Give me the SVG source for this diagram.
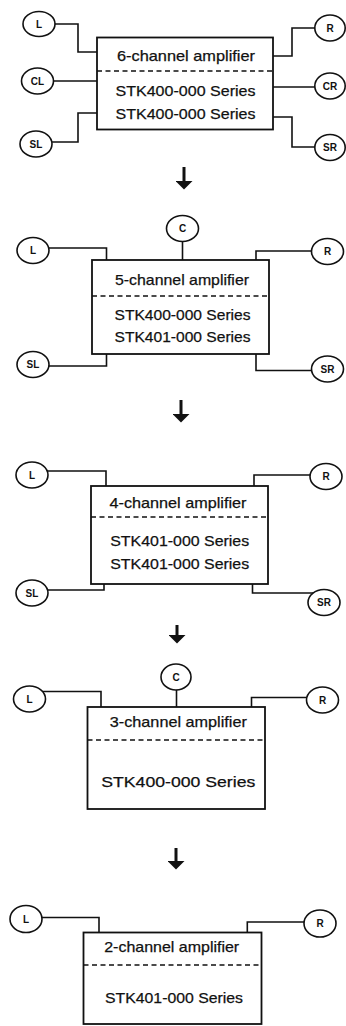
<svg xmlns="http://www.w3.org/2000/svg" width="346" height="1026" viewBox="0 0 346 1026">
<style>
.box{fill:#fff;stroke:#111;stroke-width:1.8}
.dash{stroke:#111;stroke-width:1.5;stroke-dasharray:5 3.5;fill:none}
.t{font-family:"Liberation Sans",Arial,sans-serif;font-size:15px;fill:#111;text-anchor:middle;stroke:#111;stroke-width:0.25}
.sp{fill:#fff;stroke:#111;stroke-width:1.6}
.lb{font-family:"Liberation Sans",Arial,sans-serif;font-size:10px;font-weight:bold;fill:#111;text-anchor:middle}
.w{fill:none;stroke:#111;stroke-width:1.6}
.ar{stroke:#111;stroke-width:3;fill:none}
</style>
<defs>
<marker id="ah" markerUnits="userSpaceOnUse" viewBox="0 -8.5 8.5 17" refX="0" refY="0" markerWidth="8.5" markerHeight="17" orient="auto">
<path d="M0,-8.5 L8.5,0 L0,8.5 Z" fill="#111"/>
</marker>
</defs>
<rect x="0" y="0" width="346" height="1026" fill="#fff"/>

<g id="connectors">
<!-- section 1 -->
<polyline class="w" points="39,24 78,24 78,52 97,52"/>
<polyline class="w" points="37.5,81 97,81"/>
<polyline class="w" points="36,142 78,142 78,113 97,113"/>
<polyline class="w" points="273,56 292,56 292,28 330,28"/>
<polyline class="w" points="273,87 330,87"/>
<polyline class="w" points="273,117 292,117 292,147 330,147"/>
<!-- section 2 -->
<polyline class="w" points="182.5,228 182.5,260"/>
<polyline class="w" points="33,248 106.5,248 106.5,260"/>
<polyline class="w" points="256,260 256,251 327.5,251"/>
<polyline class="w" points="33,366 106.5,366 106.5,354"/>
<polyline class="w" points="256,354 256,370.5 327.5,370.5"/>
<!-- section 3 -->
<polyline class="w" points="32,471 106,471 106,486"/>
<polyline class="w" points="254,486 254,475 326,475"/>
<polyline class="w" points="32,590 104,590 104,584"/>
<polyline class="w" points="252.5,584 252.5,593 324,593"/>
<!-- section 4 -->
<polyline class="w" points="176.5,677 176.5,707"/>
<polyline class="w" points="29.5,691.5 101,691.5 101,707"/>
<polyline class="w" points="251.5,708 251.5,697.5 322.5,697.5"/>
<!-- section 5 -->
<polyline class="w" points="26,917.5 99,917.5 99,932.5"/>
<polyline class="w" points="247.3,932.5 247.3,922 320,922"/>
<!-- flow arrows -->
<line class="ar" x1="184" y1="167" x2="184" y2="181" marker-end="url(#ah)"/>
<line class="ar" x1="181" y1="400" x2="181" y2="414" marker-end="url(#ah)"/>
<line class="ar" x1="177" y1="625" x2="177" y2="635" marker-end="url(#ah)"/>
<line class="ar" x1="176" y1="848" x2="176" y2="861" marker-end="url(#ah)"/>
</g>

<!-- Section 1: 6-channel -->
<g id="amp6">
<rect class="box" x="97" y="37.5" width="176" height="92"/>
<line class="dash" x1="97" y1="71" x2="273" y2="71"/>
<text class="t" x="186" y="60.5" textLength="138" lengthAdjust="spacingAndGlyphs">6-channel amplifier</text>
<text class="t" x="185.5" y="96" textLength="140" lengthAdjust="spacingAndGlyphs">STK400-000 Series</text>
<text class="t" x="185.5" y="118.5" textLength="140" lengthAdjust="spacingAndGlyphs">STK400-000 Series</text>
</g>
<g id="s6-L"><ellipse class="sp" cx="39" cy="24" rx="16" ry="12.5"/><text class="lb" x="39" y="27.5">L</text></g>
<g id="s6-CL"><ellipse class="sp" cx="37.5" cy="81" rx="16" ry="13"/><text class="lb" x="37.5" y="84.5">CL</text></g>
<g id="s6-SL"><ellipse class="sp" cx="36" cy="144" rx="16" ry="13"/><text class="lb" x="36" y="147.5">SL</text></g>
<g id="s6-R"><ellipse class="sp" cx="330" cy="28" rx="15.2" ry="13"/><text class="lb" x="330" y="31.5">R</text></g>
<g id="s6-CR"><ellipse class="sp" cx="330" cy="86" rx="15.2" ry="13"/><text class="lb" x="330" y="89.5">CR</text></g>
<g id="s6-SR"><ellipse class="sp" cx="330" cy="147.5" rx="15.2" ry="13"/><text class="lb" x="330" y="151">SR</text></g>

<!-- Section 2: 5-channel -->
<g id="amp5">
<rect class="box" x="92" y="260" width="177" height="94"/>
<line class="dash" x1="92" y1="296" x2="269" y2="296"/>
<text class="t" x="182" y="284.5" textLength="134" lengthAdjust="spacingAndGlyphs">5-channel amplifier</text>
<text class="t" x="182.5" y="319.5" textLength="136" lengthAdjust="spacingAndGlyphs">STK400-000 Series</text>
<text class="t" x="182.5" y="342" textLength="136" lengthAdjust="spacingAndGlyphs">STK401-000 Series</text>
</g>
<g id="s5-C"><ellipse class="sp" cx="182.5" cy="228.5" rx="16" ry="13"/><text class="lb" x="182.5" y="232">C</text></g>
<g id="s5-L"><ellipse class="sp" cx="33" cy="250.5" rx="16" ry="13"/><text class="lb" x="33" y="254">L</text></g>
<g id="s5-R"><ellipse class="sp" cx="327.5" cy="251.5" rx="16" ry="13"/><text class="lb" x="327.5" y="255">R</text></g>
<g id="s5-SL"><ellipse class="sp" cx="33" cy="364.5" rx="16" ry="13"/><text class="lb" x="33" y="368">SL</text></g>
<g id="s5-SR"><ellipse class="sp" cx="327.5" cy="369" rx="16" ry="13"/><text class="lb" x="327.5" y="372.5">SR</text></g>

<!-- Section 3: 4-channel -->
<g id="amp4">
<rect class="box" x="91" y="486" width="177" height="98"/>
<line class="dash" x1="91" y1="517" x2="268" y2="517"/>
<text class="t" x="178" y="507.5" textLength="137" lengthAdjust="spacingAndGlyphs">4-channel amplifier</text>
<text class="t" x="179.7" y="546" textLength="139" lengthAdjust="spacingAndGlyphs">STK401-000 Series</text>
<text class="t" x="179.7" y="568.5" textLength="139" lengthAdjust="spacingAndGlyphs">STK401-000 Series</text>
</g>
<g id="s4-L"><ellipse class="sp" cx="32" cy="475" rx="16" ry="13"/><text class="lb" x="32" y="478.5">L</text></g>
<g id="s4-R"><ellipse class="sp" cx="326" cy="476.5" rx="16" ry="13"/><text class="lb" x="326" y="480">R</text></g>
<g id="s4-SL"><ellipse class="sp" cx="32" cy="593" rx="16" ry="13"/><text class="lb" x="32" y="596.5">SL</text></g>
<g id="s4-SR"><ellipse class="sp" cx="324" cy="602.5" rx="16" ry="13"/><text class="lb" x="324" y="606">SR</text></g>

<!-- Section 4: 3-channel -->
<g id="amp3">
<rect class="box" x="87.5" y="707" width="177.5" height="102"/>
<line class="dash" x1="87.5" y1="740" x2="265" y2="740"/>
<text class="t" x="178.3" y="727" textLength="137" lengthAdjust="spacingAndGlyphs">3-channel amplifier</text>
<text class="t" x="178.3" y="787" textLength="154" lengthAdjust="spacingAndGlyphs">STK400-000 Series</text>
</g>
<g id="s3-C"><ellipse class="sp" cx="176" cy="677" rx="15" ry="13"/><text class="lb" x="176" y="680.5">C</text></g>
<g id="s3-L"><ellipse class="sp" cx="29.5" cy="699" rx="16" ry="13"/><text class="lb" x="29.5" y="702.5">L</text></g>
<g id="s3-R"><ellipse class="sp" cx="322.5" cy="700" rx="16" ry="13"/><text class="lb" x="322.5" y="703.5">R</text></g>

<!-- Section 5: 2-channel -->
<g id="amp2">
<rect class="box" x="83.5" y="932.5" width="178" height="91.5"/>
<line class="dash" x1="83.5" y1="965" x2="261.5" y2="965"/>
<text class="t" x="171.7" y="951.7" textLength="135" lengthAdjust="spacingAndGlyphs">2-channel amplifier</text>
<text class="t" x="174" y="1002.7" textLength="138" lengthAdjust="spacingAndGlyphs">STK401-000 Series</text>
</g>
<g id="s2-L"><ellipse class="sp" cx="26" cy="919" rx="16" ry="13.5"/><text class="lb" x="26" y="922.5">L</text></g>
<g id="s2-R"><ellipse class="sp" cx="320" cy="923.5" rx="16" ry="13.5"/><text class="lb" x="320" y="927">R</text></g>
</svg>
